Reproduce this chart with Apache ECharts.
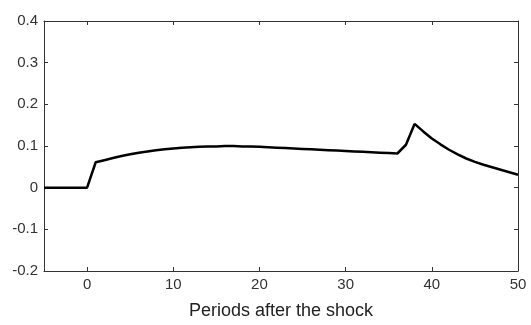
<!DOCTYPE html>
<html>
<head>
<meta charset="utf-8">
<script src="https://cdn.jsdelivr.net/npm/echarts@6/dist/echarts.min.js"></script>
<style>
  html, body { margin: 0; padding: 0; background: #fff; }
  #chart { width: 531px; height: 325px; }
</style>
</head>
<body>
<div id="chart"></div>
<script>
// periods -5 .. 50
var periods = [-5, -4, -3, -2, -1, 0, 1, 2, 3, 4, 5, 6, 7, 8, 9, 10,
  11, 12, 13, 14, 15, 16, 17, 18, 19, 20, 21, 22, 23, 24, 25, 26, 27, 28, 29, 30,
  31, 32, 33, 34, 35, 36, 37, 38, 39, 40, 41, 42, 43, 44, 45, 46, 47, 48, 49, 50]
// response
var response = [0, 0, 0, 0, 0, 0, 0.061, 0.066, 0.071, 0.076, 0.080, 0.084, 0.087, 0.090, 0.092, 0.094,
  0.096, 0.097, 0.098, 0.099, 0.099, 0.100, 0.100, 0.099, 0.099, 0.098, 0.097, 0.096, 0.095, 0.094, 0.093, 0.092, 0.091, 0.090, 0.089, 0.088,
  0.087, 0.086, 0.085, 0.084, 0.083, 0.082, 0.103, 0.153, 0.135, 0.118, 0.104, 0.091, 0.080, 0.070, 0.062, 0.055, 0.049, 0.043, 0.037, 0.031]
var xTicks = [0, 10, 20, 30, 40, 50]

var lineData = periods.map(function (p, i) { return [p, response[i]] })

var axisLine = { show: true, onZero: false, lineStyle: { color: '#333', width: 1 } }
var labelFont = { color: '#333', fontSize: 15, fontFamily: 'Liberation Sans, Arial, sans-serif' }

var myChart = echarts.init(document.getElementById('chart'))
var option = {
  backgroundColor: '#fff',
  animation: false,
  grid: { left: 44, right: 13, top: 21, bottom: 53 },
  xAxis: [
    {
      type: 'value',
      min: -5,
      max: 50,
      name: 'Periods after the shock',
      nameLocation: 'middle',
      nameGap: 31,
      nameTextStyle: { color: '#222', fontSize: 18, fontFamily: 'Liberation Sans, Arial, sans-serif' },
      axisLine: axisLine,
      axisTick: { inside: true, length: 4, lineStyle: { color: '#333' }, customValues: xTicks },
      axisLabel: Object.assign({ margin: 6, customValues: xTicks }, labelFont),
      splitLine: { show: false }
    },
    {
      type: 'value',
      position: 'top',
      min: -5,
      max: 50,
      axisLine: axisLine,
      axisTick: { inside: true, length: 4, lineStyle: { color: '#333' }, customValues: xTicks },
      axisLabel: { show: false },
      splitLine: { show: false }
    }
  ],
  yAxis: [
    {
      type: 'value',
      min: -0.2,
      max: 0.4,
      interval: 0.1,
      axisLine: axisLine,
      axisTick: { inside: true, length: 4, lineStyle: { color: '#333' } },
      axisLabel: Object.assign({ margin: 6, formatter: function (v) { return +v.toFixed(1) } }, labelFont),
      splitLine: { show: false }
    },
    {
      type: 'value',
      position: 'right',
      min: -0.2,
      max: 0.4,
      interval: 0.1,
      axisLine: axisLine,
      axisTick: { inside: true, length: 4, lineStyle: { color: '#333' } },
      axisLabel: { show: false },
      splitLine: { show: false }
    }
  ],
  series: [
    {
      type: 'line',
      data: lineData,
      showSymbol: false,
      lineStyle: { color: '#000', width: 2.5 }
    }
  ]
}
myChart.setOption(option)
</script>
</body>
</html>
